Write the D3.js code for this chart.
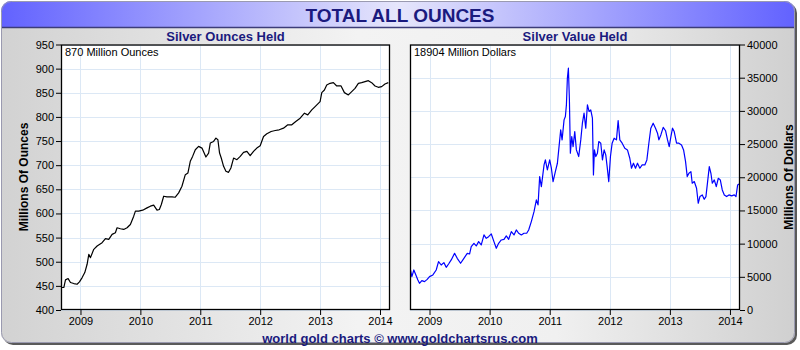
<!DOCTYPE html>
<html><head><meta charset="utf-8">
<script src="https://cdn.jsdelivr.net/npm/d3@7"></script>
<style>body{margin:0;background:#fff}svg text{font-family:"Liberation Sans",Arial,sans-serif}</style>
</head><body><svg id="c" width="800" height="350"></svg>
<script>
// ---- data ----
const yearTicks = [2009, 2010, 2011, 2012, 2013, 2014];
const ounceTicks = [400, 450, 500, 550, 600, 650, 700, 750, 800, 850, 900, 950];
const dollarTicks = [0, 5000, 10000, 15000, 20000, 25000, 30000, 35000, 40000];

const ounceDates = [2008.683,2008.722,2008.750,2008.794,2008.833,2008.889,2008.944,2008.983,2009.028,2009.072,2009.111,2009.139,2009.167,2009.222,2009.278,2009.361,2009.417,2009.472,2009.528,2009.583,2009.611,2009.667,2009.722,2009.778,2009.833,2009.889,2009.917,2009.972,2010.039,2010.111,2010.167,2010.222,2010.278,2010.317,2010.350,2010.389,2010.444,2010.528,2010.583,2010.639,2010.694,2010.750,2010.794,2010.833,2010.872,2010.917,2010.972,2011.028,2011.094,2011.139,2011.167,2011.222,2011.261,2011.294,2011.322,2011.350,2011.389,2011.428,2011.472,2011.511,2011.556,2011.611,2011.667,2011.722,2011.778,2011.833,2011.889,2011.944,2012.000,2012.056,2012.111,2012.183,2012.250,2012.317,2012.389,2012.461,2012.528,2012.594,2012.667,2012.739,2012.794,2012.861,2012.917,2013.000,2013.028,2013.072,2013.111,2013.167,2013.222,2013.278,2013.350,2013.406,2013.472,2013.528,2013.583,2013.639,2013.694,2013.750,2013.806,2013.861,2013.917,2013.972,2014.028,2014.083,2014.139];
const ounceValues = [446.6,446.6,462.4,465.1,456.9,454.8,453.4,458.3,467.2,477.5,494.7,515.3,508.5,525.7,532.5,539.4,547.7,546.3,556.6,560.0,570.4,568.3,566.9,570.4,577.2,594.4,604.8,604.8,606.8,611.6,615.1,617.1,606.8,608.2,618.5,635.7,634.3,634.3,633.6,642.6,656.3,680.4,683.9,707.9,718.2,732.0,738.9,735.4,716.9,725.1,745.8,749.2,756.1,752.6,725.1,714.8,697.6,687.3,685.2,694.2,714.8,711.4,718.2,726.5,728.6,719.6,728.6,735.4,740.2,759.5,765.0,769.8,771.9,773.3,776.7,783.6,783.6,790.5,797.3,807.7,804.2,814.5,821.4,831.7,850.3,855.8,866.1,869.6,870.9,864.1,864.1,850.3,845.5,852.4,859.2,869.6,870.9,873.0,875.1,870.9,864.1,861.3,862.7,868.2,870.9];

const dollarDates = [2008.683,2008.706,2008.739,2008.761,2008.806,2008.833,2008.872,2008.917,2008.961,2009.000,2009.056,2009.111,2009.150,2009.194,2009.239,2009.278,2009.317,2009.361,2009.417,2009.461,2009.517,2009.572,2009.628,2009.667,2009.694,2009.739,2009.778,2009.817,2009.861,2009.906,2009.944,2009.983,2010.028,2010.072,2010.111,2010.150,2010.194,2010.239,2010.278,2010.317,2010.361,2010.406,2010.444,2010.483,2010.528,2010.572,2010.617,2010.650,2010.694,2010.739,2010.778,2010.806,2010.833,2010.861,2010.906,2010.928,2010.961,2011.000,2011.028,2011.056,2011.094,2011.128,2011.150,2011.183,2011.206,2011.239,2011.261,2011.278,2011.294,2011.311,2011.328,2011.344,2011.367,2011.389,2011.417,2011.444,2011.483,2011.517,2011.544,2011.572,2011.600,2011.628,2011.656,2011.683,2011.711,2011.728,2011.744,2011.767,2011.794,2011.817,2011.850,2011.878,2011.906,2011.933,2011.956,2011.983,2012.011,2012.039,2012.072,2012.111,2012.139,2012.167,2012.206,2012.250,2012.294,2012.333,2012.361,2012.394,2012.428,2012.461,2012.500,2012.539,2012.583,2012.617,2012.650,2012.683,2012.722,2012.761,2012.794,2012.817,2012.850,2012.889,2012.928,2012.961,2012.989,2013.017,2013.044,2013.072,2013.111,2013.150,2013.194,2013.228,2013.261,2013.289,2013.317,2013.350,2013.372,2013.406,2013.444,2013.472,2013.500,2013.539,2013.572,2013.600,2013.628,2013.656,2013.683,2013.706,2013.739,2013.772,2013.806,2013.839,2013.872,2013.906,2013.944,2013.983,2014.028,2014.072,2014.100,2014.128,2014.150];
const dollarValues = [6030,5025,6030,5530,4520,4020,4420,4270,4620,5025,5280,6030,7290,6780,7140,6430,6930,7540,8540,7790,7040,7790,8540,8440,9550,10050,9650,10300,9800,11310,10800,11050,11460,10300,9300,10050,10550,10650,11160,10650,11810,11310,12060,11560,11310,11560,11560,12060,13320,14820,16580,15830,20100,18590,21860,22610,21100,22610,21360,19350,20850,22110,24120,27140,25630,28640,29150,30900,34920,36430,31650,23620,26130,24620,26880,24120,23120,25630,28140,29650,27390,30900,29900,30150,28890,20350,24120,23120,23620,25380,25130,22610,24120,23370,21610,19350,23120,25130,25880,25630,28540,25630,25130,24370,24120,22860,21360,22110,21360,22110,21360,21860,21860,22610,25130,27390,28140,27390,26630,25630,26380,27520,27010,25630,24620,26130,27390,26880,25130,25130,24870,24120,22360,20100,20600,20850,19100,19350,18340,16080,17090,17340,16680,17090,19350,21610,20600,19100,19600,18590,19850,19600,18090,17340,17090,17340,17190,17340,17090,18840,18990];

const mainTitle = "TOTAL ALL OUNCES";
const leftTitle = "Silver Ounces Held", rightTitle = "Silver Value Held";
const leftNote = "870 Million Ounces", rightNote = "18904 Million Dollars";
const leftAxisTitle = "Millions Of Ounces", rightAxisTitle = "Millions Of Dollars";
const footer = "world gold charts \u00a9 www.goldchartsrus.com";

// ---- drawing ----
const svg = d3.select("#c");
const navy = "#1a1a7e";
const defs = svg.append("defs");
const bodyG = defs.append("linearGradient").attr("id","bodyG");
bodyG.append("stop").attr("offset","0%").attr("stop-color","#d2d2d2");
bodyG.append("stop").attr("offset","45%").attr("stop-color","#f3f3f3");
bodyG.append("stop").attr("offset","70%").attr("stop-color","#f0f0f0");
bodyG.append("stop").attr("offset","100%").attr("stop-color","#d0d0d0");
const headG = defs.append("linearGradient").attr("id","headG");
headG.append("stop").attr("offset","0%").attr("stop-color","#6262ff");
headG.append("stop").attr("offset","50%").attr("stop-color","#e6e6fb");
headG.append("stop").attr("offset","100%").attr("stop-color","#6262ff");
defs.append("clipPath").attr("id","frameClip").append("rect")
  .attr("x",1).attr("y",1).attr("width",794).attr("height",342).attr("rx",10);

// shadow + frame
svg.append("rect").attr("x",3).attr("y",3).attr("width",794).attr("height",342).attr("rx",10).attr("fill","#5a5a5a");
svg.append("rect").attr("x",1).attr("y",1).attr("width",794).attr("height",342).attr("rx",10).attr("fill","url(#bodyG)");
svg.append("rect").attr("clip-path","url(#frameClip)").attr("x",1).attr("y",1).attr("width",794).attr("height",26).attr("fill","url(#headG)");
svg.append("line").attr("x1",1).attr("x2",795).attr("y1",27.5).attr("y2",27.5).attr("stroke","#3c3c78").attr("stroke-width",1.5);
svg.append("rect").attr("x",1.5).attr("y",1.5).attr("width",793).attr("height",341).attr("rx",10).attr("fill","none").attr("stroke","#9a9ab0").attr("stroke-width",1);

svg.append("text").attr("x",400).attr("y",22).attr("text-anchor","middle")
  .attr("font-size",19).attr("font-weight","bold").attr("fill",navy).text(mainTitle);
svg.append("text").attr("x",400).attr("y",343).attr("text-anchor","middle")
  .attr("font-size",13).attr("font-weight","bold").attr("fill",navy).text(footer);

const plotTop = 44.5, plotBottom = 310;
const xDomain = [2008.675, 2014.167];

function panel(cfg){
  const x = d3.scaleLinear().domain(xDomain).range([cfg.x0, cfg.x1]);
  const y = d3.scaleLinear().domain(cfg.yDomain).range([plotBottom, plotTop]);
  const g = svg.append("g");
  g.append("rect").attr("x",cfg.x0).attr("y",plotTop).attr("width",cfg.x1-cfg.x0).attr("height",plotBottom-plotTop).attr("fill","#fff");
  g.append("g").selectAll("line").data(yearTicks).join("line")
    .attr("x1",d=>Math.round(x(d))+0.5).attr("x2",d=>Math.round(x(d))+0.5).attr("y1",plotTop).attr("y2",plotBottom)
    .attr("stroke","#dce8f5");
  g.append("g").selectAll("line").data(cfg.yTicks).join("line")
    .attr("y1",d=>Math.round(y(d))+0.5).attr("y2",d=>Math.round(y(d))+0.5).attr("x1",cfg.x0).attr("x2",cfg.x1)
    .attr("stroke","#dce8f5");
  const clipId = "clip"+cfg.id;
  defs.append("clipPath").attr("id",clipId).append("rect")
    .attr("x",cfg.x0).attr("y",plotTop).attr("width",cfg.x1-cfg.x0).attr("height",plotBottom-plotTop);
  const data = cfg.dates.map((d,i)=>[d,cfg.values[i]]).filter(d=>d[1]!=null);
  g.append("path").datum(data).attr("clip-path",`url(#${clipId})`)
    .attr("d", d3.line().x(d=>x(d[0])).y(d=>y(d[1])))
    .attr("fill","none").attr("stroke",cfg.color).attr("stroke-width",1.2).attr("stroke-linejoin","round");
  g.append("rect").attr("x",cfg.x0+0.5).attr("y",plotTop+0.5).attr("width",cfg.x1-cfg.x0-1).attr("height",plotBottom-plotTop-1)
    .attr("fill","none").attr("stroke","#000").attr("stroke-width",1.3);
  const xa = g.append("g").attr("transform",`translate(0,${plotBottom})`)
    .call(d3.axisBottom(x).tickValues(yearTicks).tickFormat(d3.format("d")).tickSize(5).tickPadding(2));
  const ya = g.append("g").attr("transform",`translate(${cfg.side==="left"?cfg.x0:cfg.x1},0)`)
    .call((cfg.side==="left"?d3.axisLeft(y):d3.axisRight(y)).tickValues(cfg.yTicks).tickFormat(d3.format("d")).tickSize(5).tickPadding(2));
  [xa,ya].forEach(a=>{
    a.select(".domain").remove();
    a.selectAll("text").attr("font-size",11).attr("fill","#000").attr("font-family","Liberation Sans, Arial, sans-serif");
    a.selectAll("line").attr("stroke","#000");
  });
  g.append("text").attr("x",(cfg.x0+cfg.x1)/2).attr("y",41).attr("text-anchor","middle")
    .attr("font-size",13).attr("font-weight","bold").attr("fill",navy).text(cfg.title);
  g.append("text").attr("x",cfg.x0+4).attr("y",56).attr("font-size",11).attr("fill","#000").text(cfg.note);
  const ax = cfg.side==="left" ? 28 : 793;
  g.append("text").attr("transform",`translate(${ax},177) rotate(-90)`).attr("text-anchor","middle")
    .attr("font-size",12).attr("font-weight","bold").attr("fill","#000").text(cfg.axisTitle);
}

panel({id:"L", x0:61, x1:390, yDomain:[400,950], yTicks:ounceTicks, dates:ounceDates, values:ounceValues,
  color:"#000", side:"left", title:leftTitle, note:leftNote, axisTitle:leftAxisTitle});
panel({id:"R", x0:410, x1:740, yDomain:[0,40000], yTicks:dollarTicks, dates:dollarDates, values:dollarValues,
  color:"#0000ff", side:"right", title:rightTitle, note:rightNote, axisTitle:rightAxisTitle});
</script></body></html>
